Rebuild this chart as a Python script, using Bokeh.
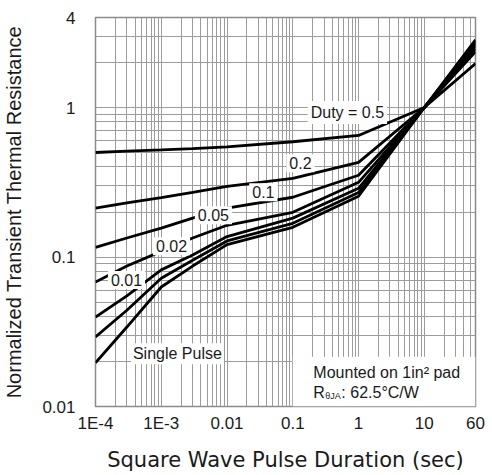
from bokeh.plotting import figure
from bokeh.models import FixedTicker, Label
from bokeh.embed import file_html
from bokeh.resources import INLINE

# ---- data ----
pulse = [1e-4, 3e-4, 1e-3, 3e-3, 1e-2, 1e-1, 1, 10, 60]
duty_05 = [0.50, 0.51, 0.52, 0.53, 0.545, 0.59, 0.65, 1.0, 1.97]
duty_02 = [0.212, 0.23, 0.25, 0.271, 0.297, 0.336, 0.43, 1.0, 2.36]
duty_01 = [0.116, 0.134, 0.156, 0.182, 0.212, 0.251, 0.352, 1.0, 2.47]
duty_005 = [0.068, 0.087, 0.109, 0.134, 0.163, 0.199, 0.316, 1.0, 2.59]
duty_002 = [0.0397, 0.055, 0.082, 0.103, 0.137, 0.182, 0.288, 1.0, 2.67]
duty_001 = [0.0292, 0.044, 0.072, 0.095, 0.128, 0.168, 0.27, 1.0, 2.76]
single = [0.0196, 0.034, 0.063, 0.087, 0.121, 0.158, 0.255, 1.0, 2.84]
series = [duty_05, duty_02, duty_01, duty_005, duty_002, duty_001, single]

x_major = [1e-4, 1e-3, 1e-2, 1e-1, 1, 10, 60]
x_major_labels = ["1E-4", "1E-3", "0.01", "0.1", "1", "10", "60"]
y_major = [0.01, 0.1, 1, 4]
y_major_labels = ["0.01", "0.1", "1", "4"]
x_minor = [m * 10.0 ** k for k in range(-4, 1) for m in range(2, 10)] + [20, 30, 40, 50]
y_minor = [m * 10.0 ** k for k in range(-2, 0) for m in range(2, 10)] + [2, 3]

curve_labels = [("Duty = 0.5", 0.676, 0.926), ("0.2", 0.1306, 0.423),
                ("0.1", 0.0357, 0.271), ("0.05", 0.0062, 0.19),
                ("0.02", 0.00143, 0.118), ("0.01", 2.96e-4, 0.0701)]

FONT = "Liberation Sans"
GRID = "#9c9c9c"
INK = "#1a1a1a"

p = figure(width=488, height=474, x_axis_type="log", y_axis_type="log",
           x_range=(1e-4, 60), y_range=(0.01, 4),
           output_backend="svg", toolbar_location=None,
           min_border_left=95, min_border_right=13, min_border_top=17,
           min_border_bottom=67)
p.background_fill_color = "white"
p.border_fill_color = "white"
p.outline_line_color = "#8a8a8a"
p.outline_line_width = 1.5

p.xaxis.ticker = FixedTicker(ticks=x_major, minor_ticks=x_minor)
p.yaxis.ticker = FixedTicker(ticks=y_major, minor_ticks=y_minor)
p.xaxis.major_label_overrides = dict(zip(x_major, x_major_labels))
p.yaxis.major_label_overrides = dict(zip(y_major, y_major_labels))

for ax in (p.xaxis, p.yaxis):
    ax.axis_line_color = None
    ax.major_tick_line_color = None
    ax.minor_tick_line_color = None
    ax.major_label_text_font = FONT
    ax.major_label_text_font_size = "17px"
    ax.major_label_text_color = INK
    ax.axis_label_text_font_style = "normal"
    ax.axis_label_text_color = INK

p.xaxis.major_label_standoff = 1
p.yaxis.major_label_standoff = 14
p.xaxis.axis_label = "Square Wave Pulse Duration (sec)"
p.xaxis.axis_label_text_font = "DejaVu Sans"
p.xaxis.axis_label_text_font_size = "21px"
p.xaxis.axis_label_standoff = 12
p.yaxis.axis_label = "Normalized Transient Thermal Resistance"
p.yaxis.axis_label_text_font = FONT
p.yaxis.axis_label_text_font_size = "20px"
p.yaxis.axis_label_standoff = 14

for g in (p.xgrid, p.ygrid):
    g.grid_line_color = GRID
    g.grid_line_width = 1
    g.minor_grid_line_color = GRID
    g.minor_grid_line_width = 1

for ys in series:
    p.line(pulse, ys, line_color="black", line_width=2.8)

# white panel for the mounting note
p.quad(left=[0.1], right=[60], bottom=[0.01], top=[0.0215],
       fill_color="white", line_color=None)

for txt, lx, ly in curve_labels:
    p.add_layout(Label(x=lx, y=ly, text=txt, text_font=FONT, text_font_size="16px",
                       text_color=INK, text_align="center", text_baseline="middle",
                       background_fill_color="white", padding=3))

p.add_layout(Label(x=1.76e-3, y=0.0225, text="Single Pulse", text_font=FONT,
                   text_font_size="16px", text_color=INK, text_align="center",
                   text_baseline="middle", background_fill_color="white", padding=2))

p.add_layout(Label(x=0.2055, y=0.0168, text="Mounted on 1in\u00b2 pad", text_font=FONT,
                   text_font_size="16px", text_color=INK, text_align="left",
                   text_baseline="middle"))
p.add_layout(Label(x=0.2055, y=0.01236, text="R", text_font=FONT,
                   text_font_size="16px", text_color=INK, text_align="left",
                   text_baseline="middle"))
p.add_layout(Label(x=0.2055, y=0.01236, x_offset=12, y_offset=-3, text="\u03b8JA",
                   text_font=FONT, text_font_size="9px", text_color=INK,
                   text_align="left", text_baseline="middle"))
p.add_layout(Label(x=0.2055, y=0.01236, x_offset=28, text=": 62.5\u00b0C/W", text_font=FONT,
                   text_font_size="16px", text_color=INK, text_align="left",
                   text_baseline="middle"))

open("out.html", "w").write(file_html(p, INLINE))
